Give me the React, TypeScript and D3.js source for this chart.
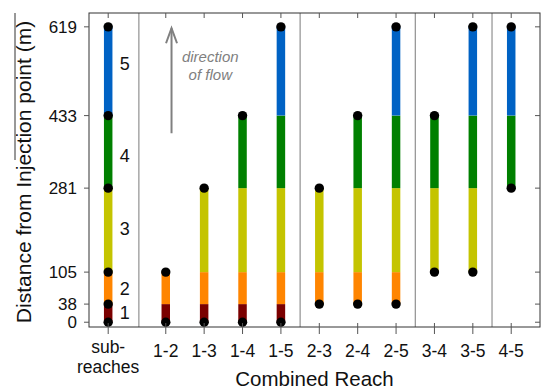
import * as d3 from 'd3'

// column labels and their positions on the x axis (sub-reaches sits apart)
const columns = ['sub-reaches', '1-2', '1-3', '1-4', '1-5', '2-3', '2-4', '2-5', '3-4', '3-5', '4-5']
const columnPos = [0, 1.5, 2.5, 3.5, 4.5, 5.5, 6.5, 7.5, 8.5, 9.5, 10.5]
// first and last sub-reach of each column
const reachStart = [1, 1, 1, 1, 1, 2, 2, 2, 3, 3, 4]
const reachEnd = [5, 2, 3, 4, 5, 3, 4, 5, 4, 5, 5]
// sub-reach boundaries (m) = y ticks
const boundaries = [0, 38, 105, 281, 433, 619]
const subReachNames = ['1', '2', '3', '4', '5']
const subReachLabelAt = [21, 71, 196, 350, 542]
const subReachColors = ['#7b0000', '#ff8500', '#c4c400', '#008000', '#0062c4']
const separators = [0.8, 5, 8, 10]

const W = 541
const H = 390
const font = "'Liberation Sans', Arial, sans-serif"

export default function App() {
  const x = d3.scaleLinear().domain([-0.5, 11.25]).range([89, 540])
  const y = d3.scaleLinear().domain([-10, 648]).range([327, 13])
  const [x0, x1] = x.range()
  const [y0, y1] = y.range()
  const barW = 8.5

  return (
    <svg width={W} height={H} style={{ position: 'absolute', left: 0, top: 0, background: '#fff' }} fontFamily={font}>
      {/* separators */}
      {separators.map(s => (
        <line key={s} x1={x(s)} x2={x(s)} y1={y1} y2={y0} stroke="#7a7a7a" strokeWidth={1} />
      ))}

      {/* bars */}
      {columns.map((c, i) => {
        const segs = d3.range(reachStart[i], reachEnd[i] + 1)
        const dotVals = i === 0 ? boundaries : [boundaries[reachStart[i] - 1], boundaries[reachEnd[i]]]
        return (
          <g key={c}>
            {segs.map(k => (
              <line
                key={k}
                x1={x(columnPos[i])}
                x2={x(columnPos[i])}
                y1={y(boundaries[k - 1])}
                y2={y(boundaries[k])}
                stroke={subReachColors[k - 1]}
                strokeWidth={barW}
              />
            ))}
            {dotVals.map(v => (
              <circle key={v} cx={x(columnPos[i])} cy={y(v)} r={4.7} fill="#000" />
            ))}
          </g>
        )
      })}

      {/* sub-reach numbers */}
      {subReachNames.map((n, i) => (
        <text key={n} x={x(0.43)} y={y(subReachLabelAt[i])} dy="0.35em" textAnchor="middle" fontSize={18} fill="#111">
          {n}
        </text>
      ))}

      {/* frame */}
      <rect x={x0} y={y1} width={x1 - x0} height={y0 - y1} fill="none" stroke="#333" strokeWidth={1} />

      {/* y ticks */}
      {boundaries.map(v => (
        <g key={v}>
          <line x1={x0 - 5} x2={x0} y1={y(v)} y2={y(v)} stroke="#555" />
          <line x1={x1 - 5} x2={x1} y1={y(v)} y2={y(v)} stroke="#555" />
          <text x={x0 - 12} y={y(v)} dy="0.35em" textAnchor="end" fontSize={17} fill="#111">
            {v}
          </text>
        </g>
      ))}

      {/* x ticks */}
      {columns.map((c, i) => (
        <g key={c}>
          <line x1={x(columnPos[i])} x2={x(columnPos[i])} y1={y0 - 4} y2={y0 + 7} stroke="#555" />
          <line x1={x(columnPos[i])} x2={x(columnPos[i])} y1={y1} y2={y1 + 5} stroke="#555" />
          {c === 'sub-reaches' ? (
            <text x={x(columnPos[i])} textAnchor="middle" fontSize={17.5} fill="#111">
              <tspan x={x(columnPos[i])} y={353}>sub-</tspan>
              <tspan x={x(columnPos[i])} y={373}>reaches</tspan>
            </text>
          ) : (
            <text x={x(columnPos[i])} y={357} textAnchor="middle" fontSize={17.5} fill="#111">
              {c}
            </text>
          )}
        </g>
      ))}

      {/* direction of flow */}
      <g stroke="#808080" strokeWidth={2} fill="none">
        <line x1={x(1.65)} x2={x(1.65)} y1={y(396)} y2={y(616)} />
        <polyline
          points={`${x(1.65) - 5.5},${y(616) + 15} ${x(1.65)},${y(616)} ${x(1.65) + 5.5},${y(616) + 15}`}
        />
      </g>
      <text x={x(2.66)} y={62} textAnchor="middle" fontSize={15} fontStyle="italic" fill="#808080">direction</text>
      <text x={x(2.66)} y={80} textAnchor="middle" fontSize={15} fontStyle="italic" fill="#808080">of flow</text>

      {/* axis titles */}
      <text
        transform={`translate(31,${(y0 + y1) / 2 + 2}) rotate(-90)`}
        textAnchor="middle"
        fontSize={21}
        fill="#111"
      >
        Distance from Injection point (m)
      </text>
      <line x1={15} x2={15} y1={y1} y2={160} stroke="#333" strokeWidth={1} />
      <text x={(x0 + x1) / 2} y={386} textAnchor="middle" fontSize={20.5} fill="#111">
        Combined Reach
      </text>
    </svg>
  )
}
